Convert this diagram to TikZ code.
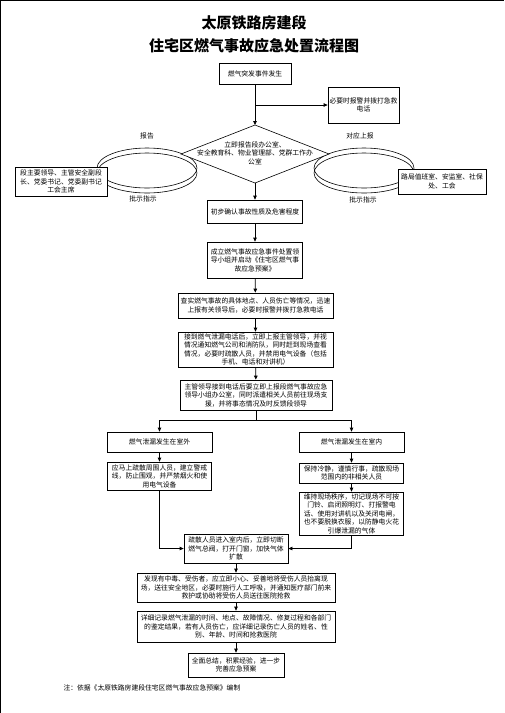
\documentclass[tikz,border=0pt]{standalone}
\usepackage{fontspec}
\usepackage{tikz}
\usetikzlibrary{arrows.meta,calc,positioning}
\newfontfamily\cjk{Noto Sans CJK SC}

\begin{document}
\begin{tikzpicture}[x=1pt,y=-1pt,>={Triangle[length=4pt,width=3.6pt]},
  box/.style={draw,line width=0.8pt,align=center,inner sep=1pt,fill=white,
    font=\cjk\fontsize{6.8}{8.5}\selectfont},
  lbl/.style={font=\cjk\fontsize{6.8}{8.5}\selectfont},
  flow/.style={->,line width=0.8pt}]
  \useasboundingbox (0,0) rectangle (504,713);
  \draw[line width=1pt] (0,713) -- (0,0) -- (504,0);
  % title
  \node[font=\cjk\bfseries\fontsize{15}{23}\selectfont,align=center] (title) at (254,34)
    {太原铁路房建段\\住宅区燃气事故应急处置流程图};
  % top part
  \node[box,minimum width=72pt,minimum height=21pt] (start) at (255,73.5) {燃气突发事件发生};
  \node[box,minimum width=71pt,minimum height=36pt] (call) at (363.5,105) {必要时报警并拨打急救\\电话};
  % rings
  \foreach \cx in {147,364}{
    \draw[line width=0.6pt] (\cx,168) ellipse (50 and 20);
    \draw[line width=0.6pt] (\cx,173) ellipse (50 and 20);
  }
  \node[lbl] (up1) at (147,136) {报告};
  \node[lbl] (down1) at (143,199) {批示指示};
  \node[lbl] (up2) at (360,136) {对应上报};
  \node[lbl] (down2) at (363,200) {批示指示};
  \coordinate (dt) at (255,125); \coordinate (dl) at (181,154);
  \coordinate (dr) at (329,154); \coordinate (db) at (255,183);
  \draw[line width=0.6pt,fill=white] (dt) -- (dr) -- (db) -- (dl) -- cycle;
  \node[lbl,align=center] (report) at (255,153)
    {立即报告段办公室、\\安全教育科、物业管理部、党群工作办\\公室};
  \node[box,minimum width=92pt,minimum height=29pt] (lead) at (61,181.5)
    {段主要领导、主管安全副段\\长、党委书记、党委副书记\\工会主席};
  \node[box,minimum width=88pt,minimum height=25pt] (bureau) at (442,181.5)
    {路局值班室、安监室、社保\\处、工会};
  % main column
  \node[box,minimum width=95pt,minimum height=23pt] (confirm) at (255,211.5) {初步确认事故性质及危害程度};
  \node[box,minimum width=95pt,minimum height=36pt] (group) at (255,260)
    {成立燃气事故应急事件处置领\\导小组并启动《住宅区燃气事\\故应急预案》};
  \node[box,minimum width=155pt,minimum height=25pt] (verify) at (255.5,305.5)
    {查实燃气事故的具体地点、人员伤亡等情况，迅速\\上报有关领导后，必要时报警并拨打急救电话};
  \node[box,minimum width=155pt,minimum height=35pt] (receive) at (255.5,349.5)
    {接到燃气泄漏电话后，立即上报主管领导，并视\\情况通知燃气公司和消防队，同时赶到现场查看\\情况，必要时疏散人员，并禁用电气设备（包括\\手机、电话和对讲机）};
  \node[box,minimum width=152pt,minimum height=30pt] (dispatch) at (256,395)
    {主管领导接到电话后要立即上报段燃气事故应急\\领导小组办公室，同时派遣相关人员前往现场支\\援，并将事态情况及时反馈段领导};
  % two branches
  \node[box,minimum width=105pt,minimum height=20pt] (outdoor) at (159.5,442) {燃气泄漏发生在室外};
  \node[box,minimum width=105pt,minimum height=20pt] (indoor) at (351.5,442) {燃气泄漏发生在室内};
  \node[box,minimum width=104pt,minimum height=28pt] (evacuate) at (159.5,476)
    {应马上疏散周围人员，建立警戒\\线，防止围观，并严禁烟火和使\\用电气设备};
  \node[box,minimum width=104pt,minimum height=20pt] (calm) at (351.5,473)
    {保持冷静，谨慎行事，疏散现场\\范围内的非相关人员};
  \node[box,minimum width=104pt,minimum height=43pt] (order) at (351.5,513.5)
    {维持现场秩序，切记现场不可按\\门铃、启闭照明灯、打报警电\\话、使用对讲机以及关闭电闸，\\也不要脱换衣服，以防静电火花\\引爆泄漏的气体};
  \node[box,minimum width=104pt,minimum height=29pt] (cut) at (236,548.5)
    {疏散人员进入室内后，立即切断\\燃气总阀，打开门窗，加快气体\\扩散};
  \node[box,minimum width=198pt,minimum height=29pt] (rescue) at (236,587.5)
    {发现有中毒、受伤者，应立即小心、妥善地将受伤人员抬离现\\场，送往安全地区，必要时施行人工呼吸，并通知医疗部门前来\\救护或协助将受伤人员送往医院抢救};
  \node[box,minimum width=198pt,minimum height=31pt] (record) at (236,626.5)
    {详细记录燃气泄漏的时间、地点、故障情况、修复过程和各部门\\的鉴定结果，若有人员伤亡，应详细记录伤亡人员的姓名、性\\别、年龄、时间和抢救医院};
  \node[box,minimum width=96pt,minimum height=24pt] (summary) at (236,665)
    {全面总结，积累经验，进一步\\完善应急预案};
  \node[lbl,anchor=west] (note) at (60,688) {注：依据《太原铁路房建段住宅区燃气事故应急预案》编制};
  % connectors
  \draw[flow] (start) -- (dt);
  \draw[flow] (start.south |- call.west) -- (call.west);
  \draw[flow] (db) -- (confirm);
  \draw[flow] (confirm) -- (group);
  \draw[flow] (group) -- (verify);
  \draw[flow] (verify) -- (receive);
  \draw[flow] (receive) -- (dispatch);
  \draw[line width=0.8pt] (dispatch.south) -- ++(0,10) coordinate (fork);
  \draw[flow] (fork) -| (outdoor);
  \draw[flow] (fork) -| (indoor);
  \draw[flow] (outdoor) -- (evacuate);
  \draw[flow] (indoor) -- (calm);
  \draw[flow] (calm) -- (order);
  \draw[flow] (evacuate) |- (cut);
  \draw[flow] (order) |- (cut);
  \draw[flow] (cut) -- (rescue);
  \draw[flow] (rescue) -- (record);
  \draw[flow] (record) -- (summary);
\end{tikzpicture}
\end{document}
